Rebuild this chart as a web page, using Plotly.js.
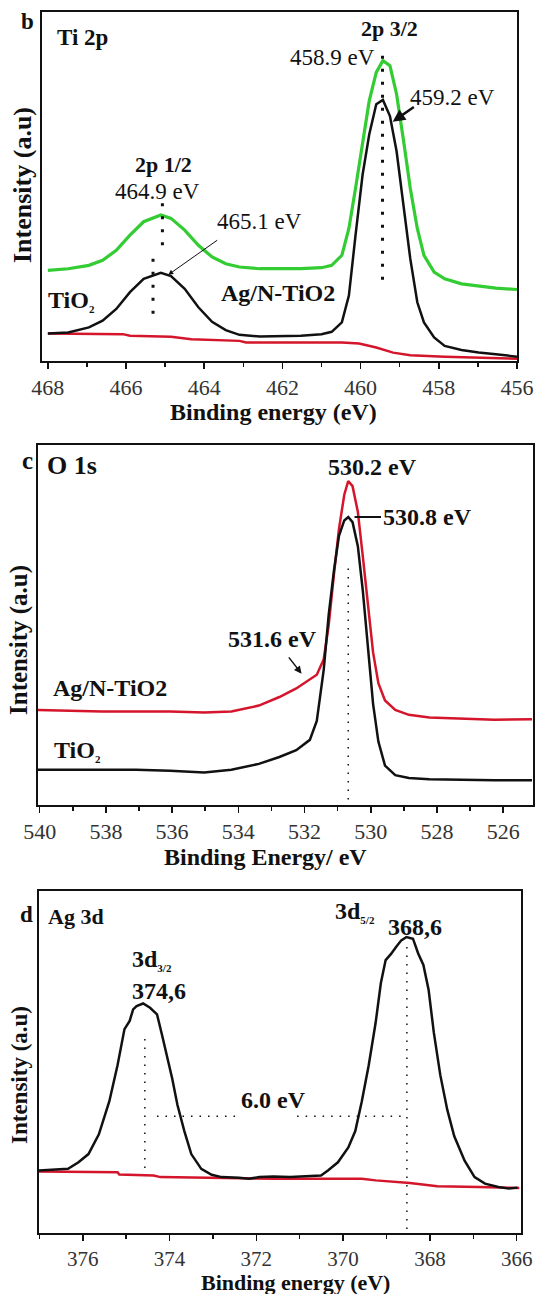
<!DOCTYPE html>
<html>
<head>
<meta charset="utf-8">
<script src="https://cdn.plot.ly/plotly-3.0.1.min.js"></script>
<style>html,body{margin:0;padding:0;background:#fff;}#chart{width:536px;height:1294px;}</style>
</head>
<body>
<div id="chart"></div>
<script>
// ---------- Panel b : Ti 2p ----------
const tiEnergy = [468.00,467.48,466.95,466.60,466.25,465.90,465.55,465.11,464.85,464.50,464.15,463.80,463.45,463.10,462.58,462.05,461.53,461.00,460.74,460.48,460.30,460.13,459.95,459.78,459.60,459.43,459.25,459.08,458.90,458.73,458.55,458.38,458.12,457.85,457.42,456.98,456.54,456.00];
const tiGreen = [270,275,285,300,330,375,415,435,425,390,345,310,290,280,275,275,275,278,285,315,395,515,655,775,860,895,880,795,655,515,395,315,265,245,230,223,217,213];
const tiBlack = [82,85,100,120,155,205,245,263,253,215,160,117,92,78,73,73,75,80,87,115,195,375,555,675,765,778,730,625,465,305,175,115,70,45,33,25,20,13];
const tiRedEnergy = [468.00,466.08,465.90,464.85,464.33,463.10,462.93,460.48,460.04,459.60,459.17,458.73,457.85,456.98,456.00];
const tiRed = [82,80,75,72,65,60,55,55,52,40,25,17,13,10,7];

// ---------- Panel c : O 1s ----------
const oEnergy = [540.05,539.15,538.12,537.09,536.06,535.03,534.21,533.38,532.76,532.25,531.84,531.63,531.42,531.27,531.11,530.96,530.80,530.68,530.55,530.39,530.24,530.08,529.93,529.77,529.57,529.26,528.85,528.23,527.30,526.27,525.13];
const oRed = [277,275,273,273,273,270,273,290,315,340,365,380,425,525,675,805,905,945,930,855,725,575,445,355,305,277,263,255,252,249,250];
const oBlack = [103,103,103,103,100,95,103,120,140,160,190,245,395,555,685,785,830,840,825,755,625,455,295,185,115,87,79,75,73,72,72];

// ---------- Panel d : Ag 3d ----------
const agEnergy = [377.01,376.65,376.34,376.10,375.87,375.63,375.39,375.20,375.04,374.92,374.84,374.76,374.61,374.45,374.29,374.17,374.06,373.94,373.82,373.66,373.50,373.27,373.03,372.80,372.40,372.17,371.93,371.61,371.22,370.83,370.51,370.35,370.12,369.88,369.72,369.57,369.41,369.25,369.13,369.02,368.90,368.78,368.66,368.54,368.39,368.27,368.15,368.03,367.91,367.76,367.60,367.44,367.20,366.97,366.73,366.42,366.18,365.98];
const agBlack = [190,192,195,215,240,300,400,510,620,645,680,690,698,685,665,600,540,470,390,310,240,195,177,170,168,165,170,172,170,172,175,190,215,260,310,400,510,640,760,830,848,870,890,900,895,850,815,740,610,480,375,295,220,170,150,140,135,138];
const agRedEnergy = [377.01,376.34,375.20,375.16,374.37,374.21,373.19,371.61,369.57,369.25,368.46,367.83,366.88,365.94];
const agRed = [187,187,185,178,175,170,168,165,165,160,152,142,140,137];

// peak marker positions (eV)
const tiPeakLines = [459.44, 465.07, 465.31];
const oPeakLine = 530.68;
const agPeakLines = [374.57, 368.53];

const FONT = 'Liberation Serif, Times New Roman, serif';

// ---------- layout helpers ----------
const W = 536, H = 1294;
const px = x => x / W;
const py = y => 1 - y / H;
const INK = '#111';
const sub = s => '<sub><span style="font-size:11px">' + s + '</span></sub>';

function xax(domain, range, anchor, tickSize) {
  return {
    domain: domain, range: range, anchor: anchor, autorange: false,
    showline: true, linecolor: INK, linewidth: 2, mirror: true,
    ticks: 'outside', ticklen: 6, tickwidth: 1.5, tickcolor: INK,
    dtick: 2, tick0: 0,
    minor: {dtick: 1, tick0: 0, ticks: 'outside', ticklen: 4, tickwidth: 1.5, tickcolor: INK, showgrid: false},
    showgrid: false, zeroline: false, fixedrange: true,
    tickfont: {family: FONT, size: tickSize, color: '#333'}
  };
}
function yax(domain, range, anchor) {
  return {
    domain: domain, range: range, anchor: anchor, autorange: false,
    showline: true, linecolor: INK, linewidth: 2, mirror: true,
    ticks: '', showticklabels: false, showgrid: false, zeroline: false, fixedrange: true
  };
}
function txt(xref, yref, x, y, text, size, bold, extra) {
  return Object.assign({
    xref: xref, yref: yref, x: x, y: y, text: text, showarrow: false,
    xanchor: 'center', yanchor: 'middle',
    font: {family: FONT, size: size, color: INK, weight: bold ? 'bold' : 'normal'}
  }, extra || {});
}
function arrow(xref, yref, tipX, tipY, tailX, tailY, width) {
  return {
    xref: xref, yref: yref, axref: xref, ayref: yref,
    x: tipX, y: tipY, ax: tailX, ay: tailY, text: '',
    showarrow: true, arrowhead: 2, arrowsize: 1, arrowwidth: width, arrowcolor: INK
  };
}
function dotLine(xref, yref, x0, y0, x1, y1, w, dash) {
  return {type: 'line', xref: xref, yref: yref, x0: x0, y0: y0, x1: x1, y1: y1,
          line: {color: INK, width: w, dash: dash}, layer: 'above'};
}

const GREEN = '#33cc33', RED = '#d4152b';

const traces = [
  {x: tiRedEnergy, y: tiRed, xaxis: 'x', yaxis: 'y', mode: 'lines', line: {color: RED, width: 2.5}},
  {x: tiEnergy, y: tiGreen, xaxis: 'x', yaxis: 'y', mode: 'lines', line: {color: GREEN, width: 3.2}},
  {x: tiEnergy, y: tiBlack, xaxis: 'x', yaxis: 'y', mode: 'lines', line: {color: INK, width: 2.5}},
  {x: oEnergy, y: oRed, xaxis: 'x2', yaxis: 'y2', mode: 'lines', line: {color: RED, width: 2.5}},
  {x: oEnergy, y: oBlack, xaxis: 'x2', yaxis: 'y2', mode: 'lines', line: {color: INK, width: 2.5}},
  {x: agRedEnergy, y: agRed, xaxis: 'x3', yaxis: 'y3', mode: 'lines', line: {color: RED, width: 2.5}},
  {x: agEnergy, y: agBlack, xaxis: 'x3', yaxis: 'y3', mode: 'lines', line: {color: INK, width: 2.5}}
];

const annotations = [
  // panel b
  txt('paper', 'paper', px(27), py(22), 'b', 23, true),
  txt('paper', 'paper', px(55), py(37), 'Ti 2p', 23, true, {xanchor: 'left'}),
  txt('x', 'y', 465.03, 585, '2p 1/2', 22, true),
  txt('x', 'y', 465.20, 505, '464.9 eV', 23, false),
  txt('x', 'y', 462.58, 415, '465.1 eV', 23, false),
  arrow('x', 'y', 464.92, 257, 463.63, 363, 1),
  txt('x', 'y', 459.25, 990, '2p 3/2', 22, true),
  txt('x', 'y', 460.72, 905, '458.9 eV', 23, false),
  txt('x', 'y', 457.64, 785, '459.2 eV', 23, false),
  arrow('x', 'y', 459.18, 713, 458.60, 760, 2.5),
  txt('x', 'y', 467.39, 178, 'TiO' + sub('2'), 24, true),
  txt('x', 'y', 462.12, 203, 'Ag/N-TiO2', 24, true),
  txt('paper', 'paper', px(273), py(412), 'Binding energy (eV)', 24, true),
  txt('paper', 'paper', px(22), py(185), 'Intensity (a.u)', 26, true, {textangle: -90}),
  // panel c
  txt('paper', 'paper', px(27), py(460), 'c', 25, true),
  txt('paper', 'paper', px(45), py(465), 'O 1s', 26, true, {xanchor: 'left'}),
  txt('x2', 'y2', 529.96, 985, '530.2 eV', 24, true),
  txt('x2', 'y2', 528.28, 840, '530.8 eV', 24, true),
  txt('x2', 'y2', 532.97, 485, '531.6 eV', 24, true),
  arrow('x2', 'y2', 532.09, 383, 532.51, 435, 1.5),
  txt('x2', 'y2', 537.87, 340, 'Ag/N-TiO2', 24, true),
  txt('x2', 'y2', 538.85, 158, 'TiO' + sub('2'), 24, true),
  txt('paper', 'paper', px(265), py(857), 'Binding Energy/ eV', 24, true),
  txt('paper', 'paper', px(19), py(640), 'Intensity (a.u)', 25, true, {textangle: -90}),
  // panel d
  txt('paper', 'paper', px(26), py(914), 'd', 23, true),
  txt('paper', 'paper', px(46), py(916), 'Ag 3d', 22, true, {xanchor: 'left'}),
  txt('x3', 'y3', 374.92, 830, '3d' + sub('3/2'), 24, true, {xanchor: 'left'}),
  txt('x3', 'y3', 374.25, 735, '374,6', 24, true),
  txt('x3', 'y3', 370.24, 975, '3d' + sub('5/2'), 24, true, {xanchor: 'left'}),
  txt('x3', 'y3', 368.35, 932, '368,6', 24, true),
  txt('x3', 'y3', 371.61, 405, '6.0 eV', 24, true),
  txt('paper', 'paper', px(295), py(1282), 'Binding energy (eV)', 22, true),
  txt('paper', 'paper', px(19), py(1075), 'Intensity (a.u)', 23, true, {textangle: -90})
];

const shapes = [
  dotLine('x', 'y', tiPeakLines[0], 910, tiPeakLines[0], 230, 3, '3px,10px'),
  dotLine('x', 'y', tiPeakLines[1], 470, tiPeakLines[1], 335, 3, '3px,10px'),
  dotLine('x', 'y', tiPeakLines[2], 305, tiPeakLines[2], 135, 3, '3px,10px'),
  {type: 'line', xref: 'x2', yref: 'y2', x0: 530.49, y0: 840, x1: 529.69, y1: 840, line: {color: INK, width: 2}},
  dotLine('x2', 'y2', oPeakLine, 690, oPeakLine, 0, 1.5, '1.5px,7px'),
  dotLine('x3', 'y3', agPeakLines[0], 590, agPeakLines[0], 190, 1.5, '1.5px,7px'),
  dotLine('x3', 'y3', agPeakLines[1], 870, agPeakLines[1], 10, 1.5, '1.5px,7px'),
  dotLine('x3', 'y3', 374.29, 355, 372.40, 355, 1.5, '1.5px,7px'),
  dotLine('x3', 'y3', 371.06, 355, 368.54, 355, 1.5, '1.5px,7px')
];

const layout = {
  width: W, height: H,
  margin: {l: 0, r: 0, t: 0, b: 0},
  paper_bgcolor: '#fff', plot_bgcolor: '#fff',
  showlegend: false,
  xaxis: xax([px(42), px(517)], [468.15, 456], 'y', 22),
  yaxis: yax([py(361), py(12)], [0, 1040], 'x'),
  xaxis2: xax([px(38), px(533)], [540.05, 525.1], 'y2', 22),
  yaxis2: yax([py(805), py(445)], [0, 1050], 'x2'),
  xaxis3: xax([px(39), px(521)], [377.01, 365.9], 'y3', 21),
  yaxis3: yax([py(1233), py(891)], [0, 1040], 'x3'),
  annotations: annotations,
  shapes: shapes
};

Plotly.newPlot('chart', traces, layout, {staticPlot: true, displayModeBar: false});
</script>
</body>
</html>
